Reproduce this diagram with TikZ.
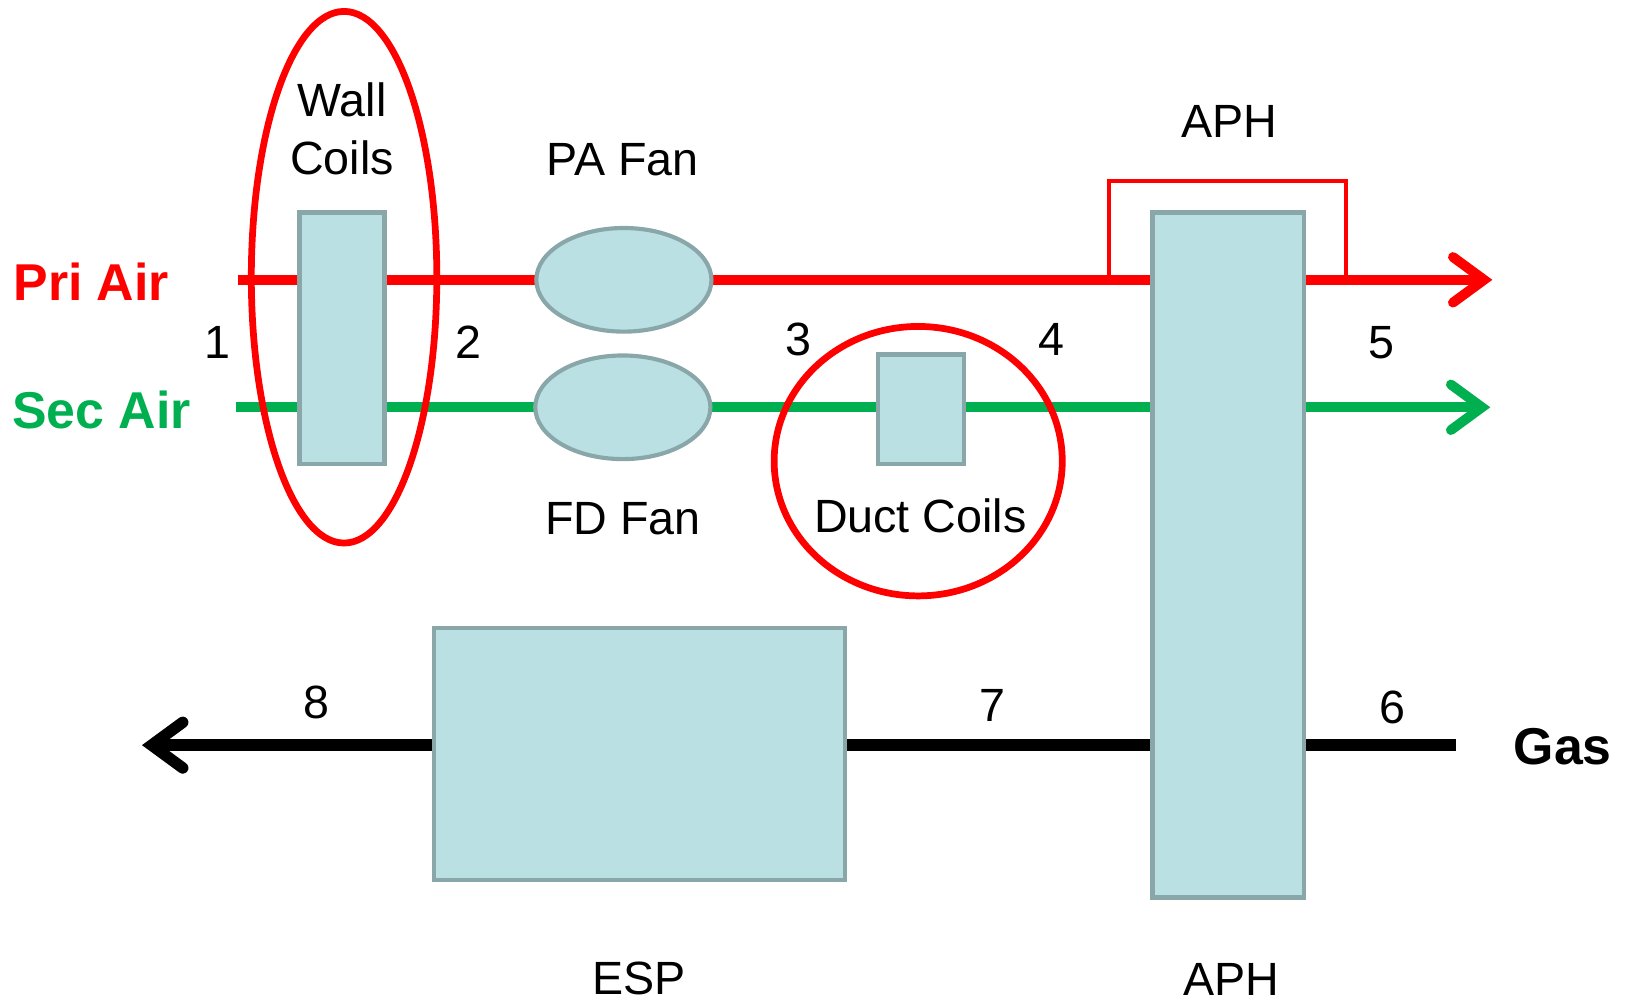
\documentclass[tikz,border=0pt]{standalone}
\usepackage{fontspec}
\setmainfont{Liberation Sans}
\usetikzlibrary{arrows.meta,shapes.geometric}
\definecolor{pri}{RGB}{255,0,0}
\definecolor{sec}{RGB}{0,176,80}
\definecolor{boxfill}{RGB}{186,224,227}
\definecolor{boxline}{RGB}{137,166,169}
\pgfdeclarelayer{bg}
\pgfsetlayers{bg,main}
\begin{document}
\begin{tikzpicture}[x=1pt,y=-1pt,
  unit/.style={draw=boxline, fill=boxfill, line width=4pt, rectangle, inner sep=0pt, outer sep=0pt},
  fan/.style={draw=boxline, fill=boxfill, line width=4pt, ellipse, inner sep=0pt, outer sep=0pt, minimum width=169pt, minimum height=100pt},
  lbl/.style={font=\fontsize{45}{54}\selectfont, anchor=base, inner sep=0pt},
  blbl/.style={font=\fontsize{50}{60}\selectfont\bfseries, anchor=base, inner sep=0pt},
  flow/.style={line width=9.5pt},
  tip/.style={-{Straight Barb[length=30pt,width=44pt,line cap=round,line join=miter]}},
  ring/.style={draw=pri, line width=6.5pt, ellipse, inner sep=0pt, outer sep=0pt}
]
\useasboundingbox (0,0) rectangle (1568,968);

% units
\node[unit, minimum width=82pt, minimum height=243pt] (wall) at (330,326.5) {};
\node[fan] (pa) at (602,270) {};
\node[fan] (fd) at (601,393) {};
\node[unit, minimum width=83pt, minimum height=106pt] (duct) at (888.5,395) {};
\node[unit, minimum width=146pt, minimum height=661pt] (aph) at (1185,535.5) {};
\node[unit, minimum width=396pt, minimum height=243pt] (esp) at (617,727.5) {};

% rings
\node[ring, minimum width=179pt, minimum height=513pt] (wallring) at (332,267.5) {};
\node[ring, minimum width=278pt, minimum height=260pt] (ductring) at (886,445) {};

% flow end points
\coordinate (pin) at (230,270);
\coordinate (pout) at (1440,270);
\coordinate (sin) at (228,393);
\coordinate (sout) at (1438,393);
\coordinate (gin) at (1405,719);
\coordinate (gout) at (137,719);
\coordinate (byA) at (1070,270);
\coordinate (byTL) at (1070,175);
\coordinate (byB) at (1299,270);

\begin{pgfonlayer}{bg}
  % primary air
  \draw[flow, pri] (pin) -- (pin -| wall.west);
  \draw[flow, pri] (pin -| wall.east) -- (pa.west);
  \draw[flow, pri] (pa.east) -- (pin -| aph.west);
  \draw[flow, pri, tip] (pin -| aph.east) -- (pout);
  % secondary air
  \draw[flow, sec] (sin) -- (sin -| wall.west);
  \draw[flow, sec] (sin -| wall.east) -- (fd.west);
  \draw[flow, sec] (fd.east) -- (sin -| duct.west);
  \draw[flow, sec] (sin -| duct.east) -- (sin -| aph.west);
  \draw[flow, sec, tip] (sin -| aph.east) -- (sout);
  % gas
  \draw[line width=11pt, black] (gin) -- (gin -| aph.east);
  \draw[line width=11pt, black] (gin -| aph.west) -- (gin -| esp.east);
  \draw[line width=11pt, black, tip] (gin -| esp.west) -- (gout);
\end{pgfonlayer}

% APH bypass
\draw[pri, line width=4pt, line join=miter] (byA) -- (byTL) -| (byB);

% labels
\node[lbl] (tWall) at (330,112) {Wall};
\node[lbl] (tCoils) at (330,168) {Coils};
\node[lbl] (tPA) at (601,169) {PA Fan};
\node[lbl] (tFD) at (601,516) {FD Fan};
\node[lbl] (tDuct) at (888,514) {Duct Coils};
\node[lbl] (tAPHt) at (1186,133) {APH};
\node[lbl] (tAPHb) at (1188,961) {APH};
\node[lbl] (tESP) at (617,960) {ESP};
\node[blbl, text=pri] (tPri) at (88,290) {Pri Air};
\node[blbl, text=sec] (tSec) at (98,413) {Sec Air};
\node[blbl] (tGas) at (1508,738) {Gas};

\node[lbl] (n1) at (210,346) {1};
\node[lbl] (n2) at (452,346) {2};
\node[lbl] (n3) at (770,343) {3};
\node[lbl] (n4) at (1015,343) {4};
\node[lbl] (n5) at (1333,346) {5};
\node[lbl] (n6) at (1344,698) {6};
\node[lbl] (n7) at (958,696) {7};
\node[lbl] (n8) at (305,693) {8};
\end{tikzpicture}
\end{document}
